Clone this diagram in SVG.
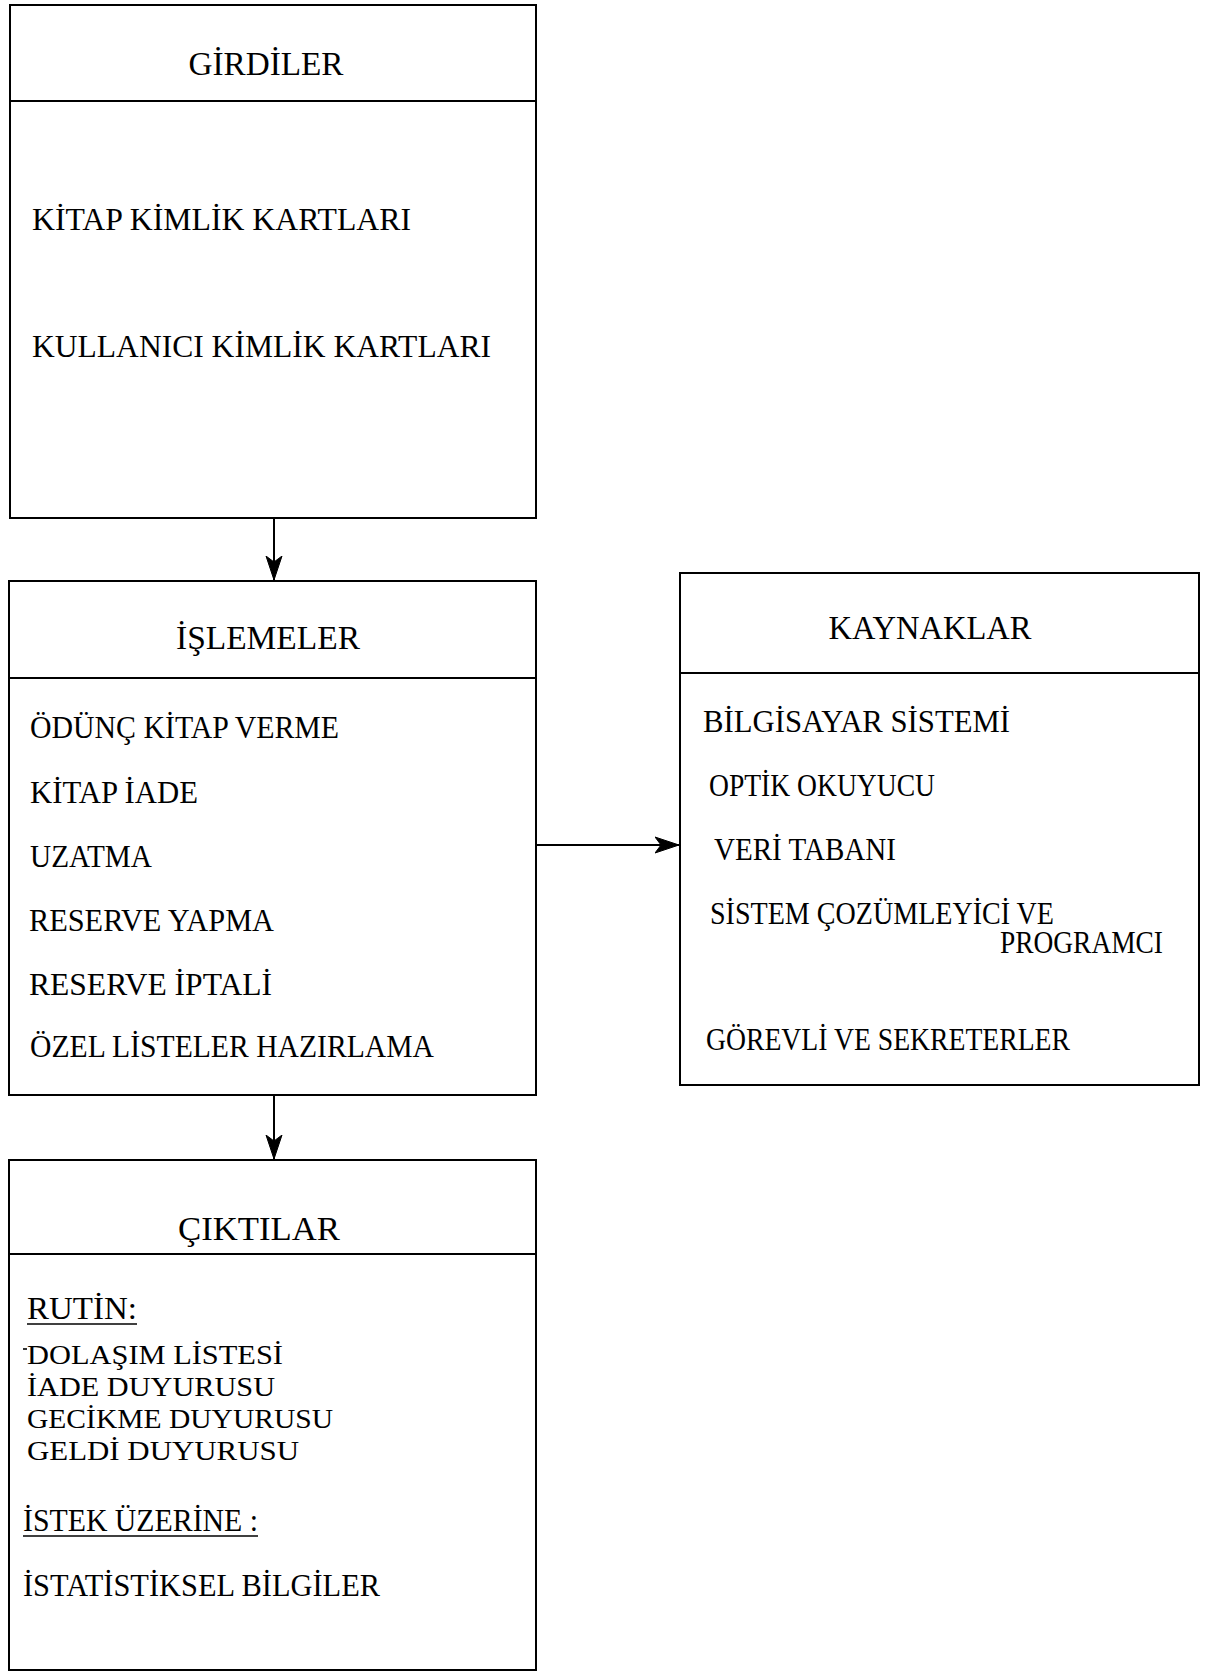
<svg xmlns="http://www.w3.org/2000/svg" width="1207" height="1673" viewBox="0 0 1207 1673">
  <style>
    .box { fill: none; stroke: #000; stroke-width: 2; }
    .div { stroke: #000; stroke-width: 2; }
    .conn { stroke: #000; stroke-width: 2; fill: none; }
    .t { font-family: "Liberation Serif", "Times New Roman", serif; font-size: 31px; fill: #000; }
    .s { font-size: 28px; }
    .h { font-family: "Liberation Serif", "Times New Roman", serif; font-size: 33px; fill: #000; text-anchor: middle; }
    .ul { stroke: #000; stroke-width: 1.6; }
  </style>
  <defs>
    <marker id="arr" markerUnits="userSpaceOnUse" markerWidth="26" markerHeight="20" refX="24" refY="10" orient="auto">
      <path d="M0,2 L24,10 L0,18 L6,10 z" fill="#000" stroke="#000" stroke-width="1"/>
    </marker>
  </defs>

  <!-- Inputs -->
  <g id="girdiler">
    <rect class="box" x="10" y="5" width="526" height="513"/>
    <line class="div" x1="10" y1="101" x2="536" y2="101"/>
    <text class="h" x="266" y="75" textLength="155" lengthAdjust="spacingAndGlyphs">GİRDİLER</text>
    <text class="t" x="32" y="230" textLength="379" lengthAdjust="spacingAndGlyphs">KİTAP KİMLİK  KARTLARI</text>
    <text class="t" x="32" y="357" textLength="459" lengthAdjust="spacingAndGlyphs">KULLANICI  KİMLİK  KARTLARI</text>
  </g>

  <!-- Processing -->
  <g id="islemeler">
    <rect class="box" x="9" y="581" width="527" height="514"/>
    <line class="div" x1="9" y1="678" x2="536" y2="678"/>
    <text class="h" x="268" y="649" textLength="184" lengthAdjust="spacingAndGlyphs">İŞLEMELER</text>
    <text class="t" x="30" y="738" textLength="309" lengthAdjust="spacingAndGlyphs">ÖDÜNÇ KİTAP VERME</text>
    <text class="t" x="30" y="803" textLength="168" lengthAdjust="spacingAndGlyphs">KİTAP İADE</text>
    <text class="t" x="30" y="867" textLength="122" lengthAdjust="spacingAndGlyphs">UZATMA</text>
    <text class="t" x="29" y="931" textLength="245" lengthAdjust="spacingAndGlyphs">RESERVE  YAPMA</text>
    <text class="t" x="29" y="995" textLength="243" lengthAdjust="spacingAndGlyphs">RESERVE  İPTALİ</text>
    <text class="t" x="30" y="1057" textLength="404" lengthAdjust="spacingAndGlyphs">ÖZEL  LİSTELER HAZIRLAMA</text>
  </g>

  <!-- Resources -->
  <g id="kaynaklar">
    <rect class="box" x="680" y="573" width="519" height="512"/>
    <line class="div" x1="680" y1="673" x2="1199" y2="673"/>
    <text class="h" x="930" y="639" textLength="203" lengthAdjust="spacingAndGlyphs">KAYNAKLAR</text>
    <text class="t" x="703" y="732" textLength="307" lengthAdjust="spacingAndGlyphs">BİLGİSAYAR  SİSTEMİ</text>
    <text class="t" x="709" y="796" textLength="226" lengthAdjust="spacingAndGlyphs">OPTİK OKUYUCU</text>
    <text class="t" x="714" y="860" textLength="182" lengthAdjust="spacingAndGlyphs">VERİ TABANI</text>
    <text class="t" x="710" y="924" textLength="344" lengthAdjust="spacingAndGlyphs">SİSTEM ÇOZÜMLEYİCİ VE</text>
    <text class="t" x="1000" y="953" textLength="163" lengthAdjust="spacingAndGlyphs">PROGRAMCI</text>
    <text class="t" x="706" y="1050" textLength="364" lengthAdjust="spacingAndGlyphs">GÖREVLİ VE SEKRETERLER</text>
  </g>

  <!-- Outputs -->
  <g id="ciktilar">
    <rect class="box" x="9" y="1160" width="527" height="510"/>
    <line class="div" x1="9" y1="1254" x2="536" y2="1254"/>
    <text class="h" x="259" y="1240" textLength="162" lengthAdjust="spacingAndGlyphs">ÇIKTILAR</text>
    <text class="t" x="27" y="1319" textLength="110" lengthAdjust="spacingAndGlyphs">RUTİN:</text>
    <line class="ul" x1="27" y1="1324" x2="137" y2="1324"/>
    <line class="ul" x1="23" y1="1349" x2="27" y2="1349"/>
    <text class="t s" x="27" y="1364" textLength="256" lengthAdjust="spacingAndGlyphs">DOLAŞIM  LİSTESİ</text>
    <text class="t s" x="27" y="1396" textLength="248" lengthAdjust="spacingAndGlyphs">İADE  DUYURUSU</text>
    <text class="t s" x="27" y="1428" textLength="306" lengthAdjust="spacingAndGlyphs">GECİKME  DUYURUSU</text>
    <text class="t s" x="27" y="1460" textLength="272" lengthAdjust="spacingAndGlyphs">GELDİ   DUYURUSU</text>
    <text class="t" x="23" y="1531" textLength="235" lengthAdjust="spacingAndGlyphs">İSTEK ÜZERİNE :</text>
    <line class="ul" x1="23" y1="1536" x2="258" y2="1536"/>
    <text class="t" x="23" y="1596" textLength="357" lengthAdjust="spacingAndGlyphs">İSTATİSTİKSEL BİLGİLER</text>
  </g>

  <!-- Connectors -->
  <g id="connectors">
    <line class="conn" x1="274" y1="518" x2="274" y2="580" marker-end="url(#arr)"/>
    <line class="conn" x1="536" y1="845" x2="679" y2="845" marker-end="url(#arr)"/>
    <line class="conn" x1="274" y1="1095" x2="274" y2="1159" marker-end="url(#arr)"/>
  </g>
</svg>
